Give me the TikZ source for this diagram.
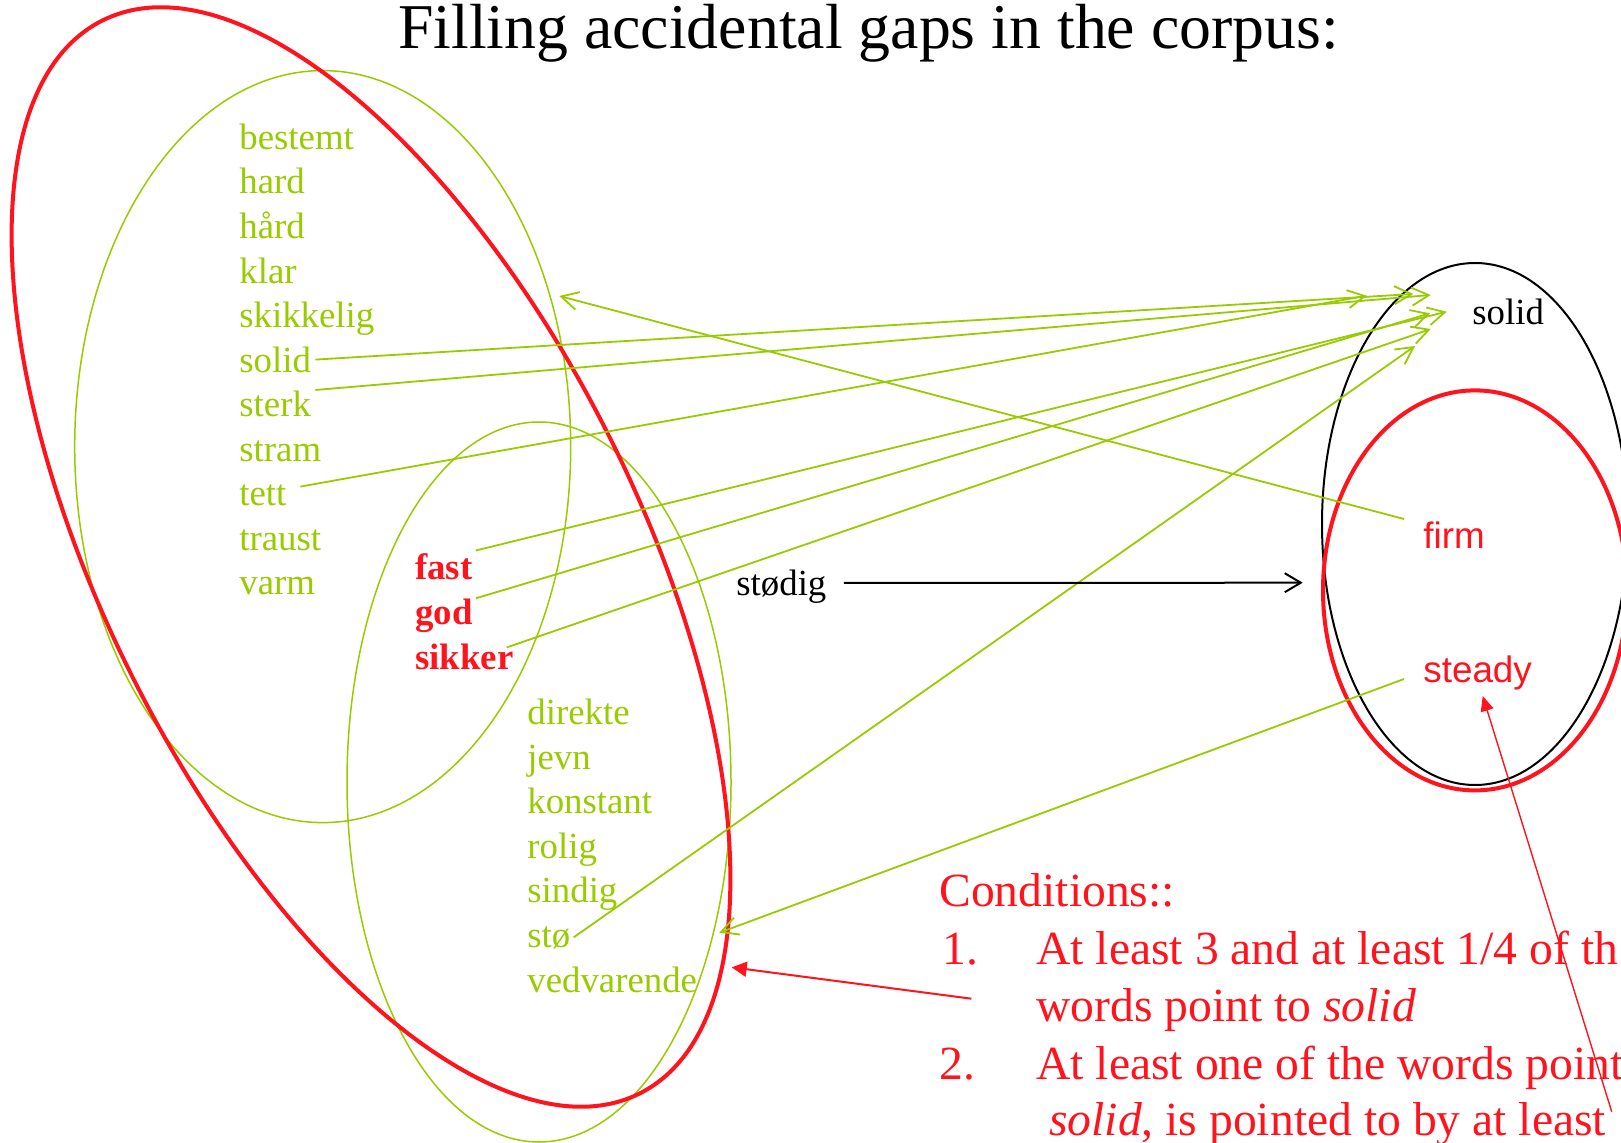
\documentclass[tikz,border=0pt]{standalone}
\usepackage{fontspec}
\setmainfont{Liberation Serif}
\newfontfamily\sansf{Liberation Sans}
\usetikzlibrary{arrows.meta,shapes.geometric}
\definecolor{lgreen}{RGB}{153,204,0}
\definecolor{dred}{RGB}{255,20,30}
\begin{document}
\begin{tikzpicture}[x=0.5pt,y=-0.5pt,
  setnode/.style={ellipse, inner sep=0pt, outer sep=0pt},
  gword/.style={text=lgreen, font=\fontsize{18.4}{22}\selectfont, inner sep=0pt, anchor=base west},
  rword/.style={text=dred, font=\fontsize{18.4}{22}\selectfont\bfseries, inner sep=0pt, anchor=base west},
  kword/.style={text=black, font=\fontsize{18.4}{22}\selectfont, inner sep=0pt, anchor=base west},
  sword/.style={text=dred, font=\fontsize{18.4}{22}\selectfont\sansf, inner sep=0pt, anchor=base west},
  ctext/.style={text=dred, font=\fontsize{23.8}{28}\selectfont, inner sep=0pt, anchor=base west},
  garrow/.style={draw=lgreen, line width=0.9pt, -{Straight Barb[length=8.5pt,width=9pt]}},
  karrow/.style={draw=black, line width=1pt, -{Straight Barb[length=8pt,width=9.5pt]}},
  rarrow/.style={draw=dred, line width=1pt, -{Triangle[length=7.5pt,width=7.5pt]}},
  rarrowthin/.style={draw=dred, line width=0.7pt, -{Triangle[length=7.5pt,width=6.5pt]}}
]
\useasboundingbox (0,0) rectangle (1621,1143);
\fill[white] (0,0) rectangle (1621,1143);

% sets
\node[setnode, draw=lgreen, line width=0.75pt, minimum width=248pt, minimum height=376pt] (setA) at (322.7,446.6) {};
\node[setnode, draw=lgreen, line width=0.75pt, minimum width=192pt, minimum height=360pt] (setB) at (539,782) {};
\node[setnode, draw=black, line width=1pt, minimum width=153pt, minimum height=261pt] (setS) at (1475,524) {};
\node[setnode, draw=dred, line width=2pt, minimum width=152pt, minimum height=200pt] (setT) at (1475,590.4) {};
\node[setnode, draw=dred, line width=2pt, minimum width=600pt, minimum height=267pt, rotate=-63.4] (setR) at (371,557) {};

% title
\node[font=\fontsize{31.9}{38}\selectfont, anchor=base, inner sep=0pt] (title) at (868.5,48.5) {Filling accidental gaps in the corpus:};

% upper green words
\node[gword] (bestemt) at (239,149.5) {bestemt};
\node[gword] (hard) at (239,194) {hard};
\node[gword] (haard) at (239,238.6) {hård};
\node[gword] (klar) at (239,283.1) {klar};
\node[gword] (skikkelig) at (239,327.7) {skikkelig};
\node[gword] (solidL) at (239,372.2) {solid};
\node[gword] (sterk) at (239,416.8) {sterk};
\node[gword] (stram) at (239,461.3) {stram};
\node[gword] (tett) at (239,505.9) {tett};
\node[gword] (traust) at (239,550.4) {traust};
\node[gword] (varm) at (239,595) {varm};

% red shared words
\node[rword] (fast) at (414.8,580) {fast};
\node[rword] (god) at (414.8,624.5) {god};
\node[rword] (sikker) at (414.8,669) {sikker};

% lower green words
\node[gword] (direkte) at (527,724.4) {direkte};
\node[gword] (jevn) at (527,769) {jevn};
\node[gword] (konstant) at (527,813.6) {konstant};
\node[gword] (rolig) at (527,858.2) {rolig};
\node[gword] (sindig) at (527,902.8) {sindig};
\node[gword] (sto) at (527,947.4) {stø};
\node[gword] (vedvarende) at (527,992) {vedvarende};

% black words
\node[kword] (stodig) at (736,596) {stødig};
\node[kword] (solidR) at (1472,324.5) {solid};

% English words
\node[sword] (firm) at (1423,549) {firm};
\node[sword] (steady) at (1423,682.5) {steady};

% conditions
\node[ctext] (cond) at (939,906) {Conditions::};
\node[ctext] (n1) at (942,964) {1.};
\node[ctext] (t1) at (1036,964) {At least 3 and at least 1/4 of th};
\node[ctext] (t1b) at (1036,1021) {words point to \textit{solid}};
\node[ctext] (n2) at (939,1079) {2.};
\node[ctext] (t2) at (1036,1079) {At least one of the words point};
\node[ctext] (t2b) at (1049,1135) {\textit{solid}, is pointed to by at least};

% green arrows to solid
\draw[garrow] ([shift={(13.6,-19.3)}]tett.base east) -- ([shift={(-105.3,-28.8)}]solidR.base west);
\draw[garrow] ([shift={(4,-12.6)}]solidL.base east) -- ([shift={(-58.7,-30.5)}]solidR.base west);
\draw[garrow] ([shift={(4,-26.8)}]sterk.base east) -- ([shift={(-41.3,-29.5)}]solidR.base west);
\draw[garrow] ([shift={(3,-29.5)}]fast.base east) -- ([shift={(-25.3,-12.8)}]solidR.base west);
\draw[garrow] ([shift={(3,-26.2)}]god.base east) -- ([shift={(-42,-11.2)}]solidR.base west);
\draw[garrow] ([shift={(-7,-21.6)}]sikker.base east) -- ([shift={(-41.3,4.5)}]solidR.base west);
\draw[garrow] ([shift={(3,-10.1)}]sto.base east) -- ([shift={(-57,21.5)}]solidR.base west);

% green arrows back from English words
\draw[garrow] ([shift={(-19,-30)}]firm.base west) -- ([shift={(236.6,-150.6)}]setA.center);
\draw[garrow] ([shift={(-19,-3.5)}]steady.base west) -- ([shift={(180.3,150.7)}]setB.center);

% black arrow
\draw[karrow] ([shift={(17,-13)}]stodig.base east) -- ([shift={(-172.3,58.7)}]setS.center);

% red arrows
\draw[rarrow] ([shift={(29.4,34.7)}]n1.base west) -- ([shift={(360.7,410.3)}]setR.center);
\draw[rarrowthin] ([shift={(575.7,32.7)}]t2.base west) -- ([shift={(59.7,13.5)}]steady.base west);
\end{tikzpicture}
\end{document}
